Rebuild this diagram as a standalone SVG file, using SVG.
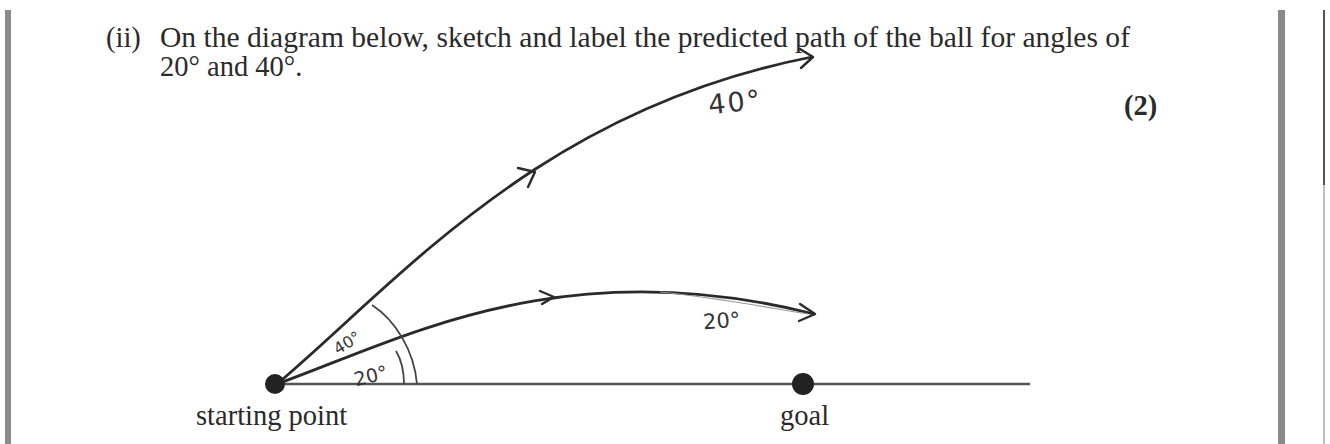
<svg xmlns="http://www.w3.org/2000/svg" width="1330" height="444" viewBox="0 0 1330 444">
<style>
.t{font-family:"Liberation Serif","Times New Roman",serif;font-size:28.5px;fill:#2a2a2a}
.h{font-family:"DejaVu Sans","Liberation Sans",sans-serif;fill:#333}
.path{fill:none;stroke:#2a2a2a;stroke-width:2.8;stroke-linecap:round}
.arc{fill:none;stroke:#444;stroke-width:1.8}
.chev{fill:none;stroke:#2a2a2a;stroke-width:2.4;stroke-linecap:round;stroke-linejoin:round}
</style>
<rect width="1330" height="444" fill="#fff"/>
<g id="borders">
<rect x="5" y="10" width="6" height="434" fill="#8a8a8a"/>
<rect x="1278" y="10" width="7" height="434" fill="#8a8a8a"/>
<line x1="1324" y1="10" x2="1324" y2="185" stroke="#555" stroke-width="2"/>
<line x1="1324" y1="185" x2="1324" y2="444" stroke="#aaa" stroke-width="1.5"/>
</g>
<g id="question">
<text class="t" x="106" y="47">(ii)</text>
<text class="t" x="160" y="47" textLength="970" lengthAdjust="spacingAndGlyphs">On the diagram below, sketch and label the predicted path of the ball for angles of</text>
<text class="t" x="160" y="76">20° and 40°.</text>
<text class="t" x="1124" y="115" font-weight="bold" font-size="25">(2)</text>
</g>
<g id="ground">
<line x1="277" y1="384" x2="1030" y2="384" stroke="#555" stroke-width="2.6"/>
</g>
<g id="connectors">
<path class="path" d="M277,384 C400,280 540,110 812,57"/>
<path class="chev" d="M800,49 L813,57 L801,68"/>
<path class="chev" d="M518,168 L535,172 L528,187"/>
<path class="path" d="M277,384 C400,340 560,250 814,314"/>
<path fill="none" stroke="#999" stroke-width="1.2" d="M660,292 C720,298 770,308 808,314"/>
<path class="chev" d="M800,304 L815,314 L799,321"/>
<path class="chev" d="M540,291 L554,297 L542,304"/>
<path class="arc" d="M372,305 C395,320 414,350 417,384"/>
<path class="arc" d="M396,351 C402,361 404,372 404,384"/>
</g>
<g id="labels">
<text class="h" x="708" y="112" font-size="27" transform="rotate(-6 730 100)" letter-spacing="2">40°</text>
<text class="h" x="703" y="328" font-size="21" transform="rotate(-4 722 320)">20°</text>
<text class="h" x="338" y="355" font-size="16" transform="rotate(-32 338 355)">40°</text>
<text class="h" x="353" y="382" font-size="19" transform="rotate(-14 372 372)">20°</text>
</g>
<g id="start">
<circle cx="275" cy="384" r="10" fill="#222"/>
<text class="t" x="196" y="425">starting point</text>
</g>
<g id="goal">
<circle cx="803" cy="384" r="11" fill="#222"/>
<text class="t" x="780" y="425">goal</text>
</g>
</svg>
